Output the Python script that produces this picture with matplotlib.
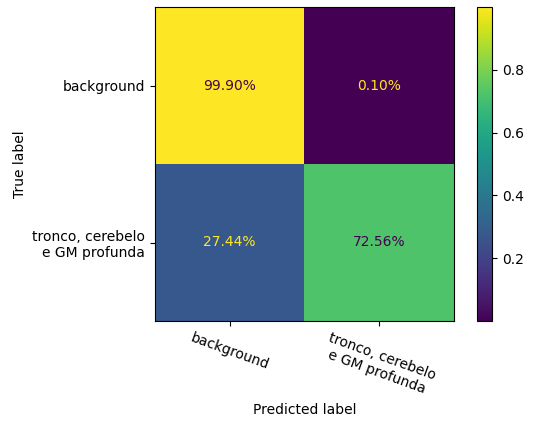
import numpy as np
import matplotlib
matplotlib.use("Agg")
import matplotlib.pyplot as plt

# Normalised confusion matrix (rows: true class, columns: predicted class)
class_names = ["background", "tronco, cerebelo\ne GM profunda"]
row_background = [0.9990, 0.0010]
row_tronco = [0.2744, 0.7256]
cm = np.array([row_background, row_tronco])

W, H, DPI = 547, 424, 100
fig = plt.figure(figsize=(W / DPI, H / DPI), dpi=DPI)

ax = fig.add_axes([155 / W, 1 - 321 / H, 299 / W, 314 / H])
cax = fig.add_axes([477 / W, 1 - 321 / H, 15 / W, 314 / H])

cmap = plt.get_cmap("viridis")
im = ax.imshow(cm, cmap=cmap, interpolation="nearest", aspect="auto")
cb = fig.colorbar(im, cax=cax)
cb.set_ticks([0.2, 0.4, 0.6, 0.8])

thresh = (cm.max() + cm.min()) / 2.0
for i in range(cm.shape[0]):
    for j in range(cm.shape[1]):
        color = cmap(0.0) if cm[i, j] >= thresh else cmap(1.0)
        ax.text(j, i, f"{cm[i, j] * 100:.2f}%", ha="center", va="center",
                color=color, fontsize=10)

ax.set_xticks(range(len(class_names)))
ax.set_yticks(range(len(class_names)))
ax.set_xticklabels(class_names, rotation=-20, ha="center")
ax.set_yticklabels(class_names)
ax.set_xlabel("Predicted label")
ax.set_ylabel("True label")

fig.savefig("out.png", dpi=DPI)
